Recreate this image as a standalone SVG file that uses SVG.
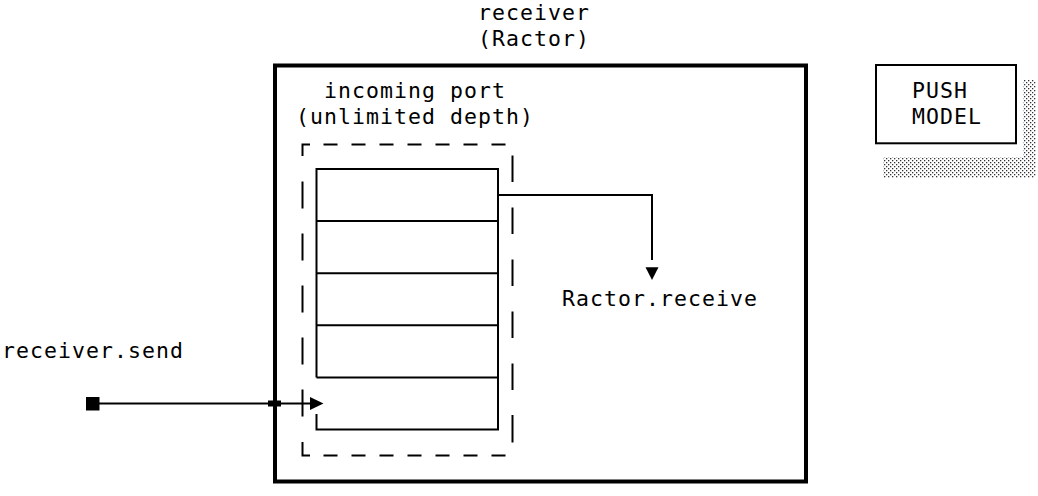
<svg xmlns="http://www.w3.org/2000/svg" width="1038" height="496" viewBox="0 0 1038 496">
<style>
  text { font-family: "DejaVu Sans Mono", "Liberation Mono", monospace; font-size: 21.5px; letter-spacing: 1.06px; fill: #000; }
  .thin { fill: none; stroke: #000; stroke-width: 2; }
  .thick { fill: none; stroke: #000; stroke-width: 4; }
  .dash { fill: none; stroke: #000; stroke-width: 2; }
</style>
<defs>
  <pattern id="dots" x="0" y="0" width="4" height="4" patternUnits="userSpaceOnUse">
    <rect x="0" y="0" width="1.3" height="1.3" fill="#333"/>
    <rect x="2" y="2" width="1.3" height="1.3" fill="#333"/>
  </pattern>
</defs>
<rect width="1038" height="496" fill="#fff"/>

<g id="receiver">
  <rect class="thick" x="275" y="65.5" width="531" height="416"/>
  <text x="478" y="19.5">receiver</text>
  <text x="478" y="45.5">(Ractor)</text>
</g>

<g id="incoming-port">
  <text x="324" y="97.6">incoming port</text>
  <text x="296" y="123.7">(unlimited depth)</text>
  <path class="dash" d="M310,144.5 H302.5 V156
    M323.5,144.5 H337.5 M351.5,144.5 H365.5 M379.5,144.5 H393.5 M407.5,144.5 H421.5 M435.5,144.5 H449.5 M463.5,144.5 H477.5 M491.5,144.5 H505.5
    M302.5,181.5 V208.5 M302.5,233.5 V260.5 M302.5,285.5 V312.5 M302.5,337.5 V364.5 M302.5,389.5 V416.5
    M302.5,442 V455.5 H310
    M323.5,455.5 H337.5 M351.5,455.5 H365.5 M379.5,455.5 H393.5 M407.5,455.5 H421.5 M435.5,455.5 H449.5 M463.5,455.5 H477.5 M491.5,455.5 H505.5
    M512.5,155.5 V182 M512.5,207.5 V234 M512.5,259.5 V286 M512.5,311.5 V338 M512.5,363.5 V390 M512.5,415 V442.5"/>
</g>

<g id="queue">
  <path class="thin" d="M316.5,377.4 V169 H498 V429.5 H316.5 V414
    M316.5,221.1 H498 M316.5,273.2 H498 M316.5,325.3 H498 M316.5,377.4 H498"/>
</g>

<g id="push-model">
  <rect x="1023" y="80" width="13" height="77" fill="url(#dots)"/>
  <rect x="883" y="157" width="153" height="21" fill="url(#dots)"/>
  <rect class="thin" x="876" y="65" width="140" height="78.3" fill="#fff"/>
  <text x="912" y="97.6">PUSH</text>
  <text x="912" y="123.7">MODEL</text>
</g>

<g id="labels">
  <text x="562" y="306">Ractor.receive</text>
  <text x="2" y="358.1">receiver.send</text>
</g>

<g id="connectors">
  <path class="thin" d="M498,195 H652 V260"/>
  <polygon points="645.5,267.3 658.5,267.3 652,280" fill="#000"/>
  <rect x="86" y="397" width="13.5" height="13.5" fill="#000"/>
  <path class="thin" d="M99,403.4 H311"/>
  <rect x="268" y="400.5" width="13" height="6" fill="#000"/>
  <polygon points="310,397 310,410 323.5,403.4" fill="#000"/>
</g>
</svg>
